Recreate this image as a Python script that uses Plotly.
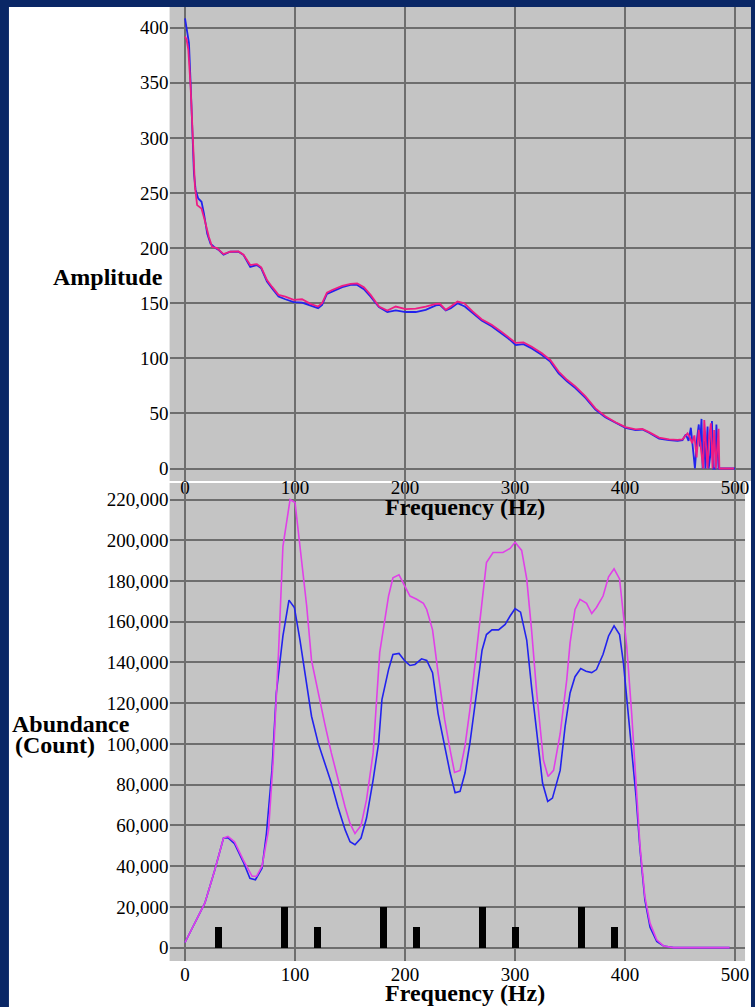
import plotly.graph_objects as go

W, H = 755, 1007

# ---------------- Top chart: Amplitude vs Frequency ----------------
amp_freq_blue = [0, 2.1, 3.6, 5.1, 6.6, 8.1, 9.6, 12, 15, 17.2, 20.2, 23.2, 27.7, 31, 35, 41, 48.6,
                 53.2, 59.3, 65.3, 69.3, 74.5, 79, 85, 91.2, 98.8, 106.4, 114, 121, 124.6, 129,
                 133.7, 142.9, 150.5, 156.5, 162.6, 168.7, 176.3, 183.9, 191.5, 200.6, 209.7,
                 218.8, 228, 231.6, 237, 241.6, 247.7, 254.3, 260.4, 269.6, 278.7, 287.8, 293.9,
                 300.6, 307.6, 315.2, 324.4, 332, 339.6, 347.2, 354.8, 364, 373, 382, 391.3,
                 400.4, 409.6, 415.7, 421.8, 430.9, 440, 447.6, 452.2, 455.2, 457.7, 459.8,
                 462, 463.5, 465.5, 467, 468, 469.5, 470.5, 472, 473, 475, 476, 477.5, 479,
                 480, 482, 483, 485, 490, 495, 500]
amp_blue = [408.5, 396, 386, 349.5, 304, 268, 253, 245, 242, 231.5, 213, 204, 200, 198, 194, 196.7,
            196.7, 193.7, 183, 184.6, 181.6, 169.6, 163.6, 156, 153.6, 151, 150.6, 147.6, 145.5,
            148.5, 158.4, 160.5, 164.5, 166.6, 166.6, 162.7, 156, 146.4, 142, 143.4, 142, 142,
            144, 148, 148.5, 143.4, 145.5, 150, 147, 142, 134.4, 129, 122.4, 118, 112, 112.8,
            109, 103, 97, 86.4, 79, 73, 64, 53.4, 46.5, 41.4, 36.9, 34.8, 35.4, 32.4, 27, 25.8,
            25, 25.8, 30.9, 25, 37, 15, 0, 28, 40, 20, 45, 0, 25, 0, 38, 0, 12, 43, 0, 0, 40,
            0, 0, 0, 0]

amp_freq_pink = [0, 1.5, 3, 5.1, 7.2, 9, 11, 15, 18, 21.7, 24.7, 29, 35, 41, 48.6, 53.2, 59.3,
                 65.3, 69.3, 74.5, 79, 85, 91.2, 98.8, 106.4, 114, 121, 124.6, 129, 133.7, 142.9,
                 150.5, 156.5, 162.6, 168.7, 176.3, 183.9, 191.5, 200.6, 209.7, 218.8, 228,
                 231.6, 237, 241.6, 247.7, 253.8, 261.4, 269.6, 278.7, 287.8, 293.9, 300.6,
                 307.6, 315.2, 324.4, 332, 339.6, 347.2, 354.8, 364, 373, 382, 391.3, 400.4,
                 409.6, 415.7, 421.8, 430.9, 440, 447.6, 452.2, 456.8, 459, 461, 463, 465,
                 467, 469, 471, 472, 474, 475, 476.5, 478, 479.5, 481, 482.5, 484, 485, 485.7,
                 490, 495, 499]
amp_pink = [392, 389, 380, 346, 298, 256, 239, 236, 225, 210, 201, 200, 194.6, 196.7, 197, 194,
            184.6, 185.5, 182.5, 171, 165, 157.5, 156, 153, 153.6, 149.4, 147, 150, 159.6, 162,
            165.7, 167.5, 168, 164.5, 157.5, 147, 143.4, 147, 144.6, 145, 147, 149.4, 149.5,
            144, 147, 151.5, 150, 142.5, 135.5, 130.5, 124, 119.5, 114, 114.5, 110.5, 104.5,
            98.5, 88, 80.5, 74.5, 65.5, 54.5, 47.5, 42, 37.5, 35.5, 36, 33, 28, 26.5, 26, 26.5,
            32, 28, 23, 30, 10, 35, 18, 0, 44, 20, 0, 30, 41, 0, 35, 0, 28, 36, 0, 0, 0, 0]

# ---------------- Bottom chart: Abundance vs Frequency ----------------
ab_freq_blue = [0, 9, 18, 27, 35, 39, 45, 53, 59, 64, 70, 74, 79, 83, 89, 94.5, 99.4, 104.5,
                110.6, 115, 121, 127, 133, 139, 145.5, 150, 154.5, 160, 165, 171, 176, 179, 185,
                189, 194.5, 200, 204.5, 209, 215, 219.7, 225, 230, 236, 241, 245.5, 250, 254.5,
                259, 265, 270, 274, 279, 285, 291, 295.5, 300, 305, 310.6, 315, 319.7, 325,
                329.7, 334, 341, 345.5, 350, 354.5, 359.7, 364.5, 369.7, 374, 380, 385, 390, 395,
                398.5, 401.5, 406, 410, 413.6, 418, 422.7, 428.8, 435, 444, 460, 480, 495]
ab_blue = [2500, 12000, 21800, 38000, 53800, 54000, 51000, 42000, 34000, 33300, 39000, 56000,
           87000, 125000, 153000, 170600, 167000, 151000, 128000, 113600, 100500, 90600, 80800,
           69000, 57900, 52000, 50500, 53800, 63600, 82400, 100500, 121800, 136500, 143900,
           144400, 140600, 138500, 139000, 141800, 141000, 135000, 115000, 98800, 85700, 76000,
           76700, 85700, 100500, 125000, 146000, 153700, 156000, 156000, 158700, 162800, 166400,
           164700, 151000, 128000, 105000, 80800, 71800, 73400, 87000, 108600, 125000, 133000,
           137000, 135700, 135000, 136500, 144000, 153000, 158000, 153700, 139800, 123000,
           98800, 74000, 48000, 23400, 10000, 3000, 800, 0, 0, 0, 0]

ab_freq_mag = [0, 9, 18, 27, 35, 39, 45, 53, 61, 65, 70, 76, 80, 85, 89, 95.5, 100, 104.5,
               110.6, 115, 121, 127, 133, 139, 145.5, 150, 154.5, 160, 165, 171, 177, 185, 189,
               194.5, 200, 204.5, 210.6, 216.7, 219.7, 225, 230, 236, 241, 245, 250, 254.5, 259,
               265, 270, 274, 280, 289, 295.5, 300, 306, 310.6, 315, 319.7, 325.8, 330, 335,
               341, 347, 350, 354.5, 359, 365, 369.7, 374, 380, 385, 390, 395, 398.5, 401.5,
               406, 410, 413.6, 418, 422.7, 428.8, 435, 444, 460, 480, 495]
ab_mag = [2500, 12000, 21800, 38000, 53800, 54600, 52000, 43000, 35000, 35000, 40000, 58000,
          90600, 145000, 197000, 220000, 218500, 197000, 167700, 141000, 125000, 110000, 95600,
          82400, 69000, 61000, 56000, 60000, 72600, 95600, 145000, 172600, 181600, 183000,
          177500, 172600, 171000, 169000, 166000, 156000, 135000, 112000, 97000, 86000, 87000,
          99000, 117000, 145000, 167700, 189000, 194000, 194000, 196000, 199000, 195000,
          181000, 156000, 125000, 92000, 84000, 87000, 105000, 131600, 149600, 166000, 171000,
          169000, 164000, 167000, 172600, 182000, 186000, 181000, 164000, 148000, 115000,
          82400, 49700, 25000, 12000, 3800, 800, 0, 0, 0, 0]

bar_freq = [30, 90, 120, 180, 210, 270, 300, 360, 390]
bar_count = [10000, 20000, 10000, 20000, 10000, 20000, 10000, 20000, 10000]

x_ticks = [0, 100, 200, 300, 400, 500]
amp_ticks = [0, 50, 100, 150, 200, 250, 300, 350, 400]
ab_ticks = [0, 20000, 40000, 60000, 80000, 100000, 120000, 140000, 160000, 180000, 200000, 220000]

# ---------------- geometry (pixels) ----------------
def px(x):
    return x / W

def py(y):
    return 1 - y / H

LEFT = 170.5
TOP_T, TOP_B, TOP_R = 7, 481, 755
BOT_T, BOT_B, BOT_R = 483, 961, 749
X0, XS = 186, 1.106              # pixel of 0 Hz, px per Hz
A0, AS = 468.5, 1.102            # pixel of amplitude 0, px per unit
C0, CS = 947.6, 0.0020368        # pixel of count 0, px per count

top_xr = [(LEFT - X0) / XS, (TOP_R - X0) / XS]
bot_xr = [(LEFT - X0) / XS, (BOT_R - X0) / XS]
top_yr = [-(TOP_B - A0) / AS, (A0 - TOP_T) / AS]
bot_yr = [-(BOT_B - C0) / CS, (C0 - BOT_T) / CS]

BLUE = "#2222ee"
PINK = "#ee1c84"
MAG = "#e040e8"
GRID = "#6e6e6e"
GRAY = "#c4c4c4"
FONT = "Liberation Serif"

fig = go.Figure()
fig.add_trace(go.Scatter(x=amp_freq_blue, y=amp_blue, mode="lines",
                         line=dict(color=BLUE, width=1.8), xaxis="x", yaxis="y"))
fig.add_trace(go.Scatter(x=amp_freq_pink, y=amp_pink, mode="lines",
                         line=dict(color=PINK, width=1.8), xaxis="x", yaxis="y"))
fig.add_trace(go.Bar(x=bar_freq, y=bar_count, width=6, marker=dict(color="black", line=dict(width=0)),
                     xaxis="x2", yaxis="y2"))
fig.add_trace(go.Scatter(x=ab_freq_blue, y=ab_blue, mode="lines",
                         line=dict(color=BLUE, width=1.6), xaxis="x2", yaxis="y2"))
fig.add_trace(go.Scatter(x=ab_freq_mag, y=ab_mag, mode="lines",
                         line=dict(color=MAG, width=1.6), xaxis="x2", yaxis="y2"))

tickfont = dict(family=FONT, size=19, color="black")
common = dict(showgrid=True, gridcolor=GRID, gridwidth=2, zeroline=False, showline=False,
              ticks="", tickfont=tickfont, fixedrange=True)

fig.update_layout(
    width=W, height=H, margin=dict(l=0, r=0, t=0, b=0),
    paper_bgcolor="#0a2766", plot_bgcolor="rgba(0,0,0,0)",
    showlegend=False, bargap=0,
    xaxis=dict(domain=[px(LEFT), px(TOP_R)], range=top_xr, tickvals=x_ticks,
               anchor="y", ticklabelstandoff=-7, **common),
    yaxis=dict(domain=[py(TOP_B), py(TOP_T)], range=top_yr, tickvals=amp_ticks,
               anchor="x", **common),
    xaxis2=dict(domain=[px(LEFT), px(BOT_R)], range=bot_xr, tickvals=x_ticks,
                anchor="y2", **common),
    yaxis2=dict(domain=[py(BOT_B), py(BOT_T)], range=bot_yr, tickvals=ab_ticks,
                tickformat=",d", anchor="x2", **common),
)

shapes = [
    dict(type="rect", xref="paper", yref="paper", x0=px(9), x1=1, y0=0, y1=py(TOP_T),
         fillcolor="white", line=dict(width=0), layer="below"),
    dict(type="rect", xref="paper", yref="paper", x0=px(LEFT), x1=px(TOP_R), y0=py(TOP_B), y1=py(TOP_T),
         fillcolor=GRAY, line=dict(width=0), layer="below"),
    dict(type="rect", xref="paper", yref="paper", x0=px(LEFT), x1=px(BOT_R), y0=py(BOT_B), y1=py(BOT_T),
         fillcolor=GRAY, line=dict(width=0), layer="below"),
]
fig.update_layout(shapes=shapes)

tfont = dict(family=FONT, size=24, color="black")
ann = [
    dict(text="<b>Amplitude</b>", x=px(166), y=py(277), xanchor="right", yanchor="middle"),
    dict(text="<b>Abundance</b>", x=px(10), y=py(724), xanchor="left", yanchor="middle"),
    dict(text="<b>(Count)</b>", x=px(13), y=py(745), xanchor="left", yanchor="middle"),
    dict(text="<b>Frequency (Hz)</b>", x=px(467), y=py(507), xanchor="center", yanchor="middle"),
    dict(text="<b>Frequency (Hz)</b>", x=px(467), y=py(993), xanchor="center", yanchor="middle"),
]
for a in ann:
    a.update(xref="paper", yref="paper", showarrow=False, font=tfont)
fig.update_layout(annotations=ann)

fig.write_html("out.html")
